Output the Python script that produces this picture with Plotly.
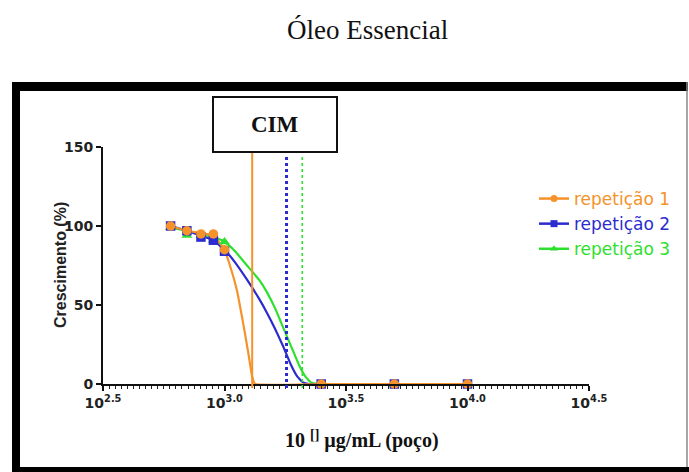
import plotly.graph_objects as go

# ---------------- data ----------------
conc = [600, 700, 800, 900, 1000, 2500, 5000, 10000]
rep1 = [100, 97, 95, 95, 85, 0, 0, 0]
rep2 = [100, 97, 93, 91, 84, 0, 0, 0]
rep3 = [99, 94, 94, 91, 90, 0, 0, 0]

# fitted curves
fit1_x = [600, 700, 800, 900, 1000, 1053, 1126, 1169, 1214, 1261, 1298, 1335, 2500, 5000, 10000]
fit1_y = [100, 97, 95.5, 94, 85, 75, 59, 46, 32, 17, 5, 0, 0, 0, 0]
fit2_x = [600, 700, 800, 900, 1000, 1105, 1238, 1387, 1496, 1614, 1741, 1878, 1988, 2104, 2227, 2500, 5000, 10000]
fit2_y = [100, 97, 94, 91, 85, 77, 66, 54, 45, 35, 24, 12, 5, 1, 0, 0, 0, 0]
fit3_x = [600, 700, 800, 900, 1000, 1105, 1238, 1387, 1496, 1614, 1741, 1878, 2026, 2145, 2270, 2426, 5000, 10000]
fit3_y = [99, 97, 95, 93, 90, 84, 75, 66, 58, 48, 36, 24, 12, 5, 1, 0, 0, 0]

cim = [1300, 1800, 2090]   # CIM vertical lines (rep 1, 2, 3)

names = ["repetição 1", "repetição 2", "repetição 3"]
colors = ["#F5922A", "#2B2BCF", "#2EE02E"]
symbols = ["circle", "square", "triangle-up"]

x_tickvals = [10**2.5, 10**3.0, 10**3.5, 10**4.0, 10**4.5]
x_ticktext = ["10<sup>2.5</sup>", "10<sup>3.0</sup>", "10<sup>3.5</sup>", "10<sup>4.0</sup>", "10<sup>4.5</sup>"]
y_tickvals = [0, 50, 100, 150]

# ---------------- layout geometry (pixels) ----------------
W, H = 689, 472
L, R, T, B = 103, 589, 147, 384


def px(xp):
    return (xp - L) / (R - L)


def py(yp):
    return (B - yp) / (B - T)


fig = go.Figure()

reps = [rep1, rep2, rep3]
fits = [(fit1_x, fit1_y), (fit2_x, fit2_y), (fit3_x, fit3_y)]

# draw order: green, blue, orange on top
for i in [2, 1, 0]:
    fx, fy = fits[i]
    fig.add_trace(go.Scatter(x=fx, y=fy, mode="lines", showlegend=False,
                             line=dict(color=colors[i], width=2.2, shape="spline", smoothing=0.35),
                             cliponaxis=False, hoverinfo="skip"))
for i in [2, 1, 0]:
    fig.add_trace(go.Scatter(x=conc, y=reps[i], mode="markers", showlegend=False,
                             marker=dict(color=colors[i], symbol=symbols[i], size=9.5,
                                         line=dict(width=0)),
                             cliponaxis=False))

# CIM vertical lines
dashes = ["solid", "dot", "dot"]
widths = [2, 3, 1.6]
for i in range(3):
    fig.add_shape(type="line", xref="x", yref="paper", x0=cim[i], x1=cim[i],
                  y0=py(388), y1=py(152 if i == 0 else 155),
                  line=dict(color=colors[i], width=widths[i], dash=dashes[i]))

# legend entries
for i in range(3):
    fig.add_trace(go.Scatter(x=[None], y=[None], mode="lines+markers",
                             name=f"<span style='color:{colors[i]}'>{names[i]}</span>",
                             line=dict(color=colors[i], width=2.5),
                             marker=dict(color=colors[i], symbol=symbols[i], size=7)))

fig.update_layout(
    width=W, height=H,
    margin=dict(l=L, r=W - R, t=T, b=H - B),
    paper_bgcolor="white", plot_bgcolor="white",
    showlegend=True,
    legend=dict(x=px(534), y=py(181), xanchor="left", yanchor="top",
                font=dict(family="DejaVu Sans", size=17),
                bgcolor="rgba(0,0,0,0)", itemwidth=30, tracegroupgap=0),
    xaxis=dict(type="log", range=[2.5, 4.5], tickmode="array", tickvals=x_tickvals,
               ticktext=["<b>" + t + "</b>" for t in x_ticktext], showgrid=False, zeroline=False,
               showline=True, linecolor="#111", linewidth=2,
               ticks="outside", ticklen=5, tickwidth=2, tickcolor="#111",
               tickfont=dict(family="DejaVu Sans", size=14, color="#222"),
               minor=dict(tickmode="linear", tick0=2.5, dtick=0.025, ticks="outside",
                          ticklen=3, tickwidth=1, tickcolor="#222", showgrid=False)),
    yaxis=dict(range=[0, 150], tickmode="array", tickvals=y_tickvals,
               ticktext=[f"<b>{v}</b>" for v in y_tickvals],
               showgrid=False, zeroline=False,
               showline=True, linecolor="#111", linewidth=2,
               ticks="outside", ticklen=5, tickwidth=2, tickcolor="#111",
               tickfont=dict(family="DejaVu Sans", size=14, color="#222")),
)

# outer frame
fig.add_shape(type="rect", xref="paper", yref="paper", x0=px(12), x1=px(20), y0=py(472), y1=py(82),
              fillcolor="black", line=dict(width=0), layer="above")
fig.add_shape(type="rect", xref="paper", yref="paper", x0=px(12), x1=px(688), y0=py(91), y1=py(82),
              fillcolor="black", line=dict(width=0), layer="above")
fig.add_shape(type="rect", xref="paper", yref="paper", x0=px(12), x1=px(689), y0=py(472), y1=py(467),
              fillcolor="black", line=dict(width=0), layer="above")
fig.add_shape(type="line", xref="paper", yref="paper", x0=px(687), x1=px(687), y0=py(467), y1=py(82),
              line=dict(color="#888", width=1.5), layer="above")

# CIM box
fig.add_shape(type="rect", xref="paper", yref="paper", x0=px(213), x1=px(337), y0=py(152), y1=py(97),
              fillcolor="white", line=dict(color="#111", width=2), layer="above")
fig.add_annotation(text="<b>CIM</b>", xref="paper", yref="paper", x=px(275), y=py(124),
                   showarrow=False, font=dict(family="Liberation Serif", size=23, color="#111"),
                   xanchor="center", yanchor="middle")

# title
fig.add_annotation(text="Óleo Essencial", xref="paper", yref="paper", x=px(367), y=py(30),
                   showarrow=False, font=dict(family="Liberation Serif", size=27, color="#111"),
                   xanchor="center", yanchor="middle")

# axis titles
fig.add_annotation(text="<b>Crescimento (%)</b>", xref="paper", yref="paper", x=px(60), y=py(265),
                   showarrow=False, textangle=-90,
                   font=dict(family="Liberation Sans", size=16, color="#222"),
                   xanchor="center", yanchor="middle")
fig.add_annotation(text="<b>10 <sup>[]</sup> µg/mL (poço)</b>", xref="paper", yref="paper",
                   x=px(362), y=py(439), showarrow=False,
                   font=dict(family="Liberation Serif", size=20, color="#111"),
                   xanchor="center", yanchor="middle")

fig.write_html("out.html")
